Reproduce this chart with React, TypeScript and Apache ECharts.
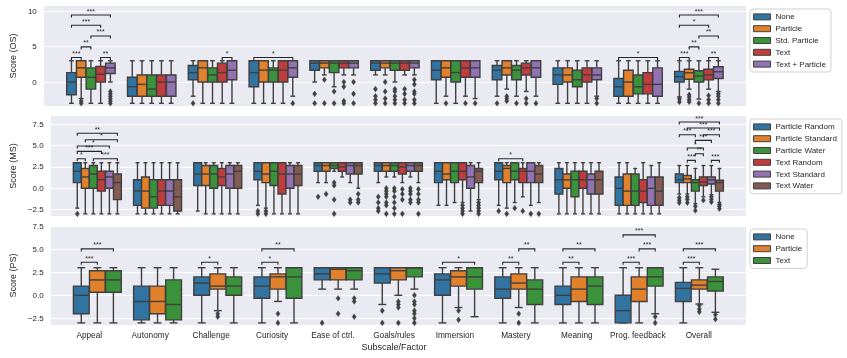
import React, { useEffect, useRef } from 'react';
import * as echarts from 'echarts';

const categories = ['Appeal', 'Autonomy', 'Challenge', 'Curiosity', 'Ease of ctrl.', 'Goals/rules', 'Immersion', 'Mastery', 'Meaning', 'Prog. feedback', 'Overall'];

const osGroups = ['None', 'Particle', 'Std. Particle', 'Text', 'Text + Particle'];
const msGroups = ['Particle Random', 'Particle Standard', 'Particle Water', 'Text Random', 'Text Standard', 'Text Water'];
const psGroups = ['None', 'Particle', 'Text'];

const osTicks = [0, 5, 10];
const msTicks = [-2.5, 0, 2.5, 5, 7.5];
const psTicks = [-2.5, 0, 2.5, 5, 7.5];

// [lower whisker, Q1, median, Q3, upper whisker] per category
const osNone = [[-3, -1.8, 0, 1.33, 3], [-3, -2, -0.67, 0.67, 3], [-2, 0.33, 1.33, 2.33, 3], [-3, -0.67, 1.33, 3, 3], [0, 1.67, 2.67, 3, 3], [1, 1.67, 2.67, 3, 3], [-3, 0.33, 1.67, 3, 3], [-2, 0.33, 1.67, 2.33, 3], [-3, -0.33, 1, 2, 3], [-3, -2, -0.67, 0.5, 3], [-2.1, 0, 0.75, 1.5, 3]];
const osNoneOut = [[], [], [-3], [], [-1.67, -3], [-1, -2, -2.5, -3], [], [-3], [], [], [-2.4, -2.8]];
const osParticle = [[-2.33, 0.67, 2, 3, 3], [-3, -2, -0.33, 1, 3], [-3, 0, 2, 3, 3], [-3, 0, 1.67, 3, 3], [1, 2, 2.67, 3, 3], [1, 2, 2.67, 3, 3], [-2, 0.67, 2, 3, 3], [-1, 1, 2, 3, 3], [-3, 0, 1, 2, 3], [-3, -2, 0, 1.67, 3], [-1, 0.4, 1.3, 1.8, 3]];
const osParticleOut = [[-2.67, -3], [], [], [], [0.33, -3], [0, -1.33, -2.33, -3], [-3], [-2, -2.33, -2.67], [], [], [-1.8, -2.1, -2.5, -2.8]];
const osStd = [[-3, -1, 0.67, 2, 3], [-3, -2, -1, 1, 3], [-3, 0, 1, 2, 3], [-3, 0, 1.67, 2, 3], [-0.67, 1.33, 2.67, 3, 3], [0, 1.67, 2.67, 3, 3], [-3, 0, 1.33, 3, 3], [-2, 0.33, 1.67, 2.33, 3], [-3, -0.67, 0.33, 1.67, 3], [-3, -1.67, -0.67, 1, 3], [-2.4, 0, 0.85, 1.6, 3]];
const osStdOut = [[], [], [], [], [-1.33, -3], [-1, -1.33, -2, -2.5, -3], [], [-3], [], [], [-3]];
const osText = [[-3, 0, 1.1, 2.2, 3], [-3, -2, 0, 1, 3], [-3, 0, 1.33, 2.67, 3], [-3, 0, 1.67, 3, 3], [1, 2, 2.67, 3, 3], [1, 1.67, 2.67, 3, 3], [-2, 0.67, 2, 3, 3], [-1.33, 1, 2, 2.67, 3], [-3, 0, 1, 2, 3], [-3, -1.67, -0.33, 1.33, 3], [-1, 0.3, 1, 1.8, 3]];
const osTextOut = [[], [], [], [], [0, -0.67, -2.67, -3], [-1, -1.67, -2.5, -3], [-3], [-2.33, -3], [], [], [-1.9, -2.5, -3]];
const osTP = [[0, 1.2, 2, 2.67, 3], [-3, -2, 0, 1, 3], [-3, 0.33, 1.67, 3, 3], [-2, 0.67, 2, 3, 3], [1, 2, 2.67, 3, 3], [1, 2, 2.67, 3, 3], [-2.33, 0.67, 2, 3, 3], [-2, 0.67, 2, 3, 3], [-2, 0.33, 1, 2, 3], [-3, -2, -0.33, 2, 3], [-1.33, 0.5, 1.45, 2.15, 3]];
const osTPOut = [[-1.33, -1.67, -2, -2.33, -2.67, -3], [], [], [-3], [0, -1.67, -3], [0.33, -0.33, -1.33, -1.67, -2.5, -3], [-3], [-3], [-2.33, -3], [], [-1.67, -2, -2.5, -3]];

const msPR = [[-2.33, 0.67, 2, 3, 3], [-3, -2, -0.33, 1, 3], [-2.67, 0.33, 1.67, 3, 3], [-2, 1, 2, 3, 3], [0.67, 2, 2.67, 3, 3], [0.67, 2, 2.67, 3, 3], [-2, 0.67, 2, 3, 3], [-2, 1, 2, 3, 3], [-3, -0.67, 1, 2.33, 3], [-3, -2, 0, 1.33, 3], [-0.67, 0.67, 1, 1.67, 2.67]];
const msPROut = [[-3], [], [], [-2.67, -3], [-1], [-1, -1.67, -2.33, -2.67], [], [-2.67], [], [], [-1.1, -1.4, -1.7]];
const msPS = [[-3, 0, 1.33, 2.33, 3], [-3, -2.33, -0.33, 1.33, 3], [-3, 0.33, 1.67, 2.67, 3], [-2.33, 0.67, 1.67, 3, 3], [0.67, 2, 2.67, 3, 3], [1.33, 2, 2.67, 3, 3], [-2, 1, 1.67, 3, 3], [-2.33, 0.67, 2.33, 2.67, 3], [-3, 0, 1, 1.67, 3], [-3, -2, -0.33, 1.67, 3], [-0.67, 0.67, 1.1, 1.5, 2.67]];
const msPSOut = [[], [], [], [-2.67, -3], [-0.67], [0, -0.33, -0.67, -1, -1.67, -2, -3], [], [-3], [], [], [-1, -1.3, -1.7]];
const msPW = [[-3, 0, 1.67, 2.67, 3], [-3, -2.33, -1, 1, 3], [-3, 0, 1.67, 2.67, 3], [-3, 0.33, 2, 3, 3], [2, 2.33, 2.67, 3, 3], [1.33, 2, 2.67, 3, 3], [-1.67, 0.67, 2, 3, 3], [-1.67, 1, 2, 3, 3], [-3, -1, 1, 2, 3], [-3, -2, -0.33, 1.67, 2.33], [-1.8, -0.33, 0.67, 1, 2.33]];
const msPWOut = [[], [], [], [], [0.67, 0.33, -1.33, -3], [0, -0.33, -1, -1.67, -2.33, -3], [], [-2.33], [], [], [-2.1, -2.6]];
const msTR = [[-3, -0.33, 1, 2, 3], [-3, -2, -0.33, 1, 3], [-3, 0.33, 1.33, 2.33, 3], [-3, -0.67, 1.67, 3, 3], [1.33, 2, 2.5, 3, 3], [0.67, 1.67, 2.5, 3, 3], [-1.67, 1, 2, 3, 3], [-1, 0.67, 2, 2.33, 3], [-3, 0, 1, 2, 3], [-3, -1.67, -0.33, 1, 3], [-1, 0.33, 0.75, 1.33, 2.67]];
const msTROut = [[], [], [], [], [], [-0.1, -0.67, -1.33, -3], [-2, -2.33, -2.67, -3], [-2.67], [], [], [-1.4]];
const msTS = [[-3, 0, 1.33, 2, 3], [-3, -2, -0.33, 1, 3], [-3, 0, 1.67, 2.67, 3], [-3, 0, 1.67, 2.67, 3], [0.67, 1.67, 2.67, 3, 3], [1.33, 2, 2.67, 3, 3], [-2.67, 0, 1.33, 2.67, 3], [-2, 0.67, 2, 3, 3], [-3, -0.67, 1, 1.67, 3], [-3, -2, 0, 1.33, 2.67], [-0.75, 0.5, 1, 1.33, 2.67]];
const msTSOut = [[], [], [], [], [-1.33, -1.67], [0, -0.33, -0.67, -1.33, -1.67], [], [-3], [], [], [-1, -1.3, -1.6]];
const msTW = [[-3, -1.33, 0.67, 1.67, 3], [-3, -2.67, -1, 1, 3], [-3, 0, 2, 2.67, 3], [-3, 0.33, 1.67, 2.67, 3], [0, 1.67, 2.67, 3, 3], [0.67, 2, 2.67, 3, 3], [-1.33, 0.67, 2, 2.33, 3], [-1.67, 0.67, 1.67, 2.67, 3], [-3, -0.67, 1, 2, 3], [-3, -2, -0.33, 1.33, 3], [-1.67, -0.33, 0.67, 0.95, 2.33]];
const msTWOut = [[], [], [], [], [-0.67, -1.33, -1.67], [-0.1, -0.67, -1.33, -1.67, -3], [-1.67, -2, -2.33, -2.67, -3], [-3], [], [], [-1.9, -2.1, -2.4]];

const psNone = [[-3, -2, 0, 1, 3], [-3, -2.67, -0.67, 1, 3], [-3, 0, 1.33, 2, 3], [-3, -0.33, 1, 2, 3], [0.67, 1.67, 2.33, 3, 3], [-1, 1.33, 2.33, 3, 3], [-3, 0, 1.67, 2.33, 3], [-3, -0.33, 0.67, 2, 3], [-3, -1, 0, 1, 3], [-3, -3, -1.67, 0, 3], [-3, -0.67, 0.75, 1.4, 3]];
const psNoneOut = [[], [], [], [], [-3], [-1.67, -3], [], [], [], [], []];
const psParticle = [[-3, 0.33, 1.67, 2.67, 3], [-3, -2, -0.67, 1, 3], [-1.67, 0.67, 1, 2.33, 3], [-0.67, 0.67, 2, 2.33, 3], [0.67, 1.67, 2.83, 3, 3], [0, 1.67, 2.67, 3, 3], [-1.33, 1, 2, 2.67, 3], [-1.33, 0.67, 1.33, 2.33, 3], [-3, -0.67, 0.67, 2, 3], [-3, -0.67, 0.67, 2, 3], [-0.95, 0.67, 1.1, 1.67, 3]];
const psParticleOut = [[], [], [-2, -2.33], [-2, -3], [-0.33, -2], [-0.67, -1, -1.33, -3], [-1.67, -2.67], [-2, -3], [], [], [-1.1, -1.5, -1.8]];
const psText = [[-3, 0.33, 1.67, 2.67, 3], [-3, -2.67, -1, 1.67, 3], [-3, 0, 1, 2, 3], [-3, -0.33, 2, 3, 3], [0.67, 1.67, 2.67, 3, 3], [0.67, 2, 3, 3, 3], [-2.33, 0.67, 2, 3, 3], [-3, -1, 0.67, 1.67, 3], [-3, -1, 1, 2, 3], [-2, 1, 2, 3, 3], [-1.85, 0.47, 1.5, 2, 2.83]];
const psTextOut = [[], [], [], [], [-0.33, -0.67, -2.33], [0, -0.67, -1, -1.67, -2, -2.5, -3], [], [], [], [-2.33, -3], [-2.1, -2.6]];

// significance: [category, group A, group B, bracket height, label]
const osSig: [number, number, number, number, string][] = [
  [0, 0, 1, 3.46, '***'], [0, 3, 4, 3.46, '**'], [0, 1, 2, 4.95, '**'], [0, 2, 4, 6.5, '***'], [0, 0, 3, 8.0, '***'], [0, 0, 4, 9.45, '***'],
  [2, 3, 4, 3.46, '*'], [3, 0, 4, 3.46, '*'], [9, 0, 4, 3.46, '*'],
  [10, 0, 1, 3.46, '***'], [10, 3, 4, 3.46, '**'], [10, 1, 2, 4.95, '**'], [10, 2, 4, 6.5, '**'], [10, 0, 3, 8.0, '*'], [10, 0, 4, 9.45, '***'],
];
const msSig: [number, number, number, number, string][] = [
  [0, 0, 1, 3.47, '*'], [0, 2, 5, 3.47, '***'], [0, 0, 3, 4.33, '***'], [0, 0, 4, 4.96, '*'], [0, 1, 5, 5.7, '*'], [0, 0, 5, 6.45, '**'],
  [7, 0, 3, 3.47, '*'],
  [10, 1, 2, 3.28, '***'], [10, 4, 5, 3.28, '***'], [10, 2, 3, 4.06, '**'], [10, 1, 3, 4.72, '*'], [10, 2, 4, 5.62, '***'], [10, 0, 2, 6.28, '***'], [10, 3, 5, 6.28, '***'], [10, 1, 5, 7.07, '***'], [10, 0, 5, 7.77, '***'],
];
const psSig: [number, number, number, number, string][] = [
  [0, 0, 1, 3.59, '***'], [0, 0, 2, 5.04, '***'], [2, 0, 1, 3.59, '*'], [3, 0, 1, 3.59, '*'], [3, 0, 2, 5.04, '**'], [6, 0, 2, 3.59, '*'],
  [7, 0, 1, 3.59, '**'], [7, 1, 2, 5.04, '**'], [8, 0, 1, 3.59, '**'], [8, 0, 2, 5.04, '**'],
  [9, 0, 1, 3.59, '***'], [9, 1, 2, 5.04, '***'], [9, 0, 2, 6.56, '***'], [10, 0, 1, 3.59, '***'], [10, 0, 2, 5.04, '***'],
];

const COLORS = ['#3274a1', '#e1812c', '#3a923a', '#c03d3e', '#9372b2', '#845b53'];
const GRAY = '#3f3f3f';
const TXT = '#262626';
const FONT = 'Liberation Sans, Arial, sans-serif';
const LW = 1.4;
const XMIN = -0.775;
const XMAX = 10.775;

function boxRenderer(stats: number[][], outs: number[][], g: number, n: number) {
  return (params: any, api: any) => {
    const i = params.dataIndex;
    const s = stats[i];
    const bw = 0.8 / n;
    const xc = i + (g - (n - 1) / 2) * bw;
    const hw = (bw * 0.98) / 2;
    const xL = api.coord([xc - hw, 0])[0];
    const xR = api.coord([xc + hw, 0])[0];
    const xm = api.coord([xc, 0])[0];
    const cw = (xR - xL) / 4;
    const y = (v: number) => api.coord([xc, v])[1];
    const yLo = y(s[0]), yQ1 = y(s[1]), yMed = y(s[2]), yQ3 = y(s[3]), yHi = y(s[4]);
    const ls = { stroke: GRAY, lineWidth: LW };
    const children: any[] = [
      { type: 'line', shape: { x1: xm, y1: yLo, x2: xm, y2: yQ1 }, style: ls },
      { type: 'line', shape: { x1: xm, y1: yQ3, x2: xm, y2: yHi }, style: ls },
      { type: 'line', shape: { x1: xm - cw, y1: yLo, x2: xm + cw, y2: yLo }, style: ls },
      { type: 'line', shape: { x1: xm - cw, y1: yHi, x2: xm + cw, y2: yHi }, style: ls },
      { type: 'rect', shape: { x: xL, y: yQ3, width: xR - xL, height: Math.max(yQ1 - yQ3, 0.5) }, style: { fill: api.visual('color'), stroke: GRAY, lineWidth: LW } },
      { type: 'line', shape: { x1: xL, y1: yMed, x2: xR, y2: yMed }, style: ls },
    ];
    outs[i].forEach((v) => {
      const yy = y(v);
      children.push({ type: 'polygon', shape: { points: [[xm, yy - 2.8], [xm + 2, yy], [xm, yy + 2.8], [xm - 2, yy]] }, style: { fill: GRAY, stroke: GRAY, lineWidth: 0.5 } });
    });
    return { type: 'group', children };
  };
}

function sigRenderer(sig: [number, number, number, number, string][], n: number) {
  return (params: any, api: any) => {
    const [cat, g1, g2, val, label] = sig[params.dataIndex];
    const bw = 0.8 / n;
    const x1 = cat + (g1 - (n - 1) / 2) * bw;
    const x2 = cat + (g2 - (n - 1) / 2) * bw;
    const p1 = api.coord([x1, val]);
    const p2 = api.coord([x2, val]);
    const drop = 2.5;
    return {
      type: 'group',
      children: [
        { type: 'polyline', shape: { points: [[p1[0], p1[1] + drop], [p1[0], p1[1]], [p2[0], p2[1]], [p2[0], p2[1] + drop]] }, style: { stroke: TXT, lineWidth: 1.1, fill: null } },
        { type: 'text', x: (p1[0] + p2[0]) / 2, y: p1[1] - 0.5, style: { text: label, fill: TXT, fontSize: 7, align: 'center', verticalAlign: 'bottom', fontFamily: FONT } },
      ],
    };
  };
}

const fmt1 = (v: number) => (v < 0 ? '\u2212' + Math.abs(v).toFixed(1) : v.toFixed(1));
const fmt0 = (v: number) => (v < 0 ? '\u2212' + Math.abs(v) : String(v));

function yAxisFor(gi: number, min: number, max: number, ticks: number[], name: string, fmt: (v: number) => string) {
  return {
    type: 'value', gridIndex: gi, min, max,
    name, nameLocation: 'middle', nameGap: 21, nameRotate: 90,
    nameTextStyle: { fontSize: 9, color: TXT, fontFamily: FONT },
    axisLine: { show: false },
    axisTick: { show: false, customValues: ticks },
    axisLabel: { customValues: ticks, formatter: fmt, fontSize: 8, color: TXT, margin: 7, fontFamily: FONT },
    splitLine: { show: true, lineStyle: { color: '#ffffff', width: 1 }, customValues: ticks },
  };
}

function legendFor(names: string[], top: number) {
  return {
    orient: 'vertical', left: 750, top,
    data: names.map((nm, k) => ({ name: nm, icon: 'rect', itemStyle: { color: COLORS[k], borderColor: GRAY, borderWidth: 1 } })),
    itemWidth: 17, itemHeight: 6, itemGap: 0,
    padding: [2, 5, 2, 3],
    textStyle: { fontSize: 8, lineHeight: 11.8, color: TXT, fontFamily: FONT },
    backgroundColor: 'rgba(255,255,255,0.85)', borderColor: '#d0d0d0', borderWidth: 1, borderRadius: 3,
    selectedMode: false,
  };
}

export default function App() {
  const ref = useRef<HTMLDivElement>(null);
  useEffect(() => {
    if (!ref.current) return;
    const chart = echarts.init(ref.current, undefined, { renderer: 'svg' });
    const osStats = [osNone, osParticle, osStd, osText, osTP];
    const osOuts = [osNoneOut, osParticleOut, osStdOut, osTextOut, osTPOut];
    const msStats = [msPR, msPS, msPW, msTR, msTS, msTW];
    const msOuts = [msPROut, msPSOut, msPWOut, msTROut, msTSOut, msTWOut];
    const psStats = [psNone, psParticle, psText];
    const psOuts = [psNoneOut, psParticleOut, psTextOut];

    const series: any[] = [];
    const addBoxes = (groups: string[], stats: number[][][], outs: number[][][], gi: number) => {
      groups.forEach((nm, g) => {
        series.push({
          type: 'custom', name: nm, xAxisIndex: gi, yAxisIndex: gi,
          itemStyle: { color: COLORS[g] },
          data: stats[g].map((s, i) => [i, s[0], s[1], s[2], s[3], s[4]]),
          encode: { x: 0, y: [1, 2, 3, 4, 5] },
          renderItem: boxRenderer(stats[g], outs[g], g, groups.length),
          silent: true,
        });
      });
    };
    addBoxes(osGroups, osStats, osOuts, 0);
    addBoxes(msGroups, msStats, msOuts, 1);
    addBoxes(psGroups, psStats, psOuts, 2);
    const addSig = (sig: [number, number, number, number, string][], n: number, gi: number) => {
      series.push({
        type: 'custom', xAxisIndex: gi, yAxisIndex: gi, silent: true,
        data: sig.map((s) => [s[0], s[3]]),
        renderItem: sigRenderer(sig, n),
      });
    };
    addSig(osSig, 5, 0);
    addSig(msSig, 6, 1);
    addSig(psSig, 3, 2);

    const xHidden = (gi: number) => ({ type: 'value', gridIndex: gi, min: XMIN, max: XMAX, show: false, splitLine: { show: false } });

    chart.setOption({
      animation: false,
      textStyle: { fontFamily: FONT },
      grid: [
        { left: 42, top: 6, width: 704, height: 100, show: true, backgroundColor: '#eaeaf2', borderWidth: 0 },
        { left: 42, top: 116, width: 704, height: 100, show: true, backgroundColor: '#eaeaf2', borderWidth: 0 },
        { left: 42, top: 226, width: 704, height: 99, show: true, backgroundColor: '#eaeaf2', borderWidth: 0 },
        { left: 42 + 704 * (-0.5 - XMIN) / (XMAX - XMIN), top: 226, width: 704 * 11 / (XMAX - XMIN), height: 99, show: false },
      ],
      xAxis: [
        xHidden(0), xHidden(1), xHidden(2),
        {
          type: 'category', gridIndex: 3, data: categories, boundaryGap: true,
          axisLine: { show: false }, axisTick: { show: false }, splitLine: { show: false },
          axisLabel: { interval: 0, fontSize: 8.25, color: TXT, margin: 6, fontFamily: FONT },
          name: 'Subscale/Factor', nameLocation: 'middle', nameGap: 17,
          nameTextStyle: { fontSize: 9, color: TXT, fontFamily: FONT },
        },
      ],
      yAxis: [
        yAxisFor(0, -3.38, 10.72, osTicks, 'Score (OS)', fmt0),
        yAxisFor(1, -3.25, 8.48, msTicks, 'Score (MS)', fmt1),
        yAxisFor(2, -3.23, 7.53, psTicks, 'Score (PS)', fmt1),
        { type: 'value', gridIndex: 3, show: false, splitLine: { show: false } },
      ],
      legend: [legendFor(osGroups, 9), legendFor(msGroups, 119), legendFor(psGroups, 229)],
      series,
    });
    return () => chart.dispose();
  }, []);
  return <div ref={ref} style={{ position: 'fixed', left: 0, top: 0, width: 847, height: 358 }} />;
}
